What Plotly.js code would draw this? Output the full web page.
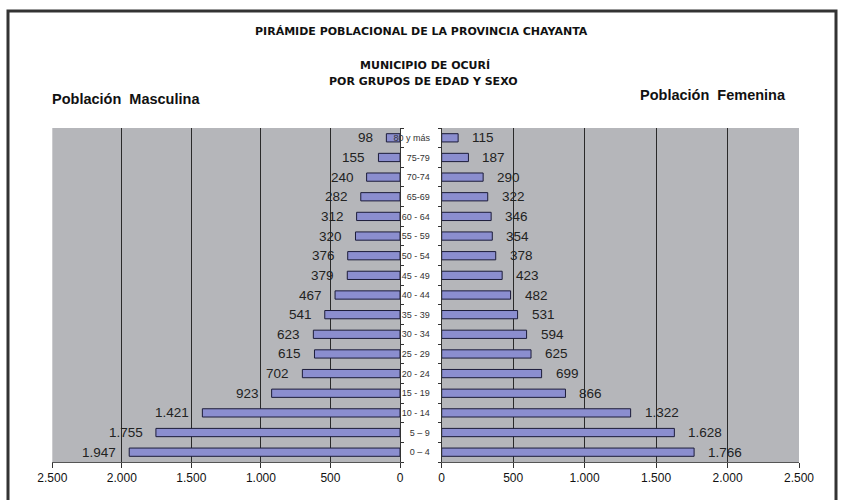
<!DOCTYPE html>
<html>
<head>
<meta charset="utf-8">
<script src="https://cdn.plot.ly/plotly-3.0.1.min.js"></script>
<style>html,body{margin:0;padding:0;background:#fff}#chart{width:841px;height:500px}</style>
</head>
<body>
<div id="chart"></div>
<script>
// Age groups, bottom to top
const categories = ['0 – 4','5 – 9','10 - 14','15 - 19','20 - 24','25 - 29','30 - 34','35 - 39','40 - 44','45 - 49','50 - 54','55 - 59','60 - 64','65-69','70-74','75-79','80 y más'];
const male = [1947,1755,1421,923,702,615,623,541,467,379,376,320,312,282,240,155,98];
const female = [1766,1628,1322,866,699,625,594,531,482,423,378,354,346,322,290,187,115];
const tickValues = [0,500,1000,1500,2000,2500];
const tickLabels = ['0','500','1.000','1.500','2.000','2.500'];

function fmt(v){ return String(v).replace(/\B(?=(\d{3})+(?!\d))/g,'.'); }

const W = 841, H = 500;
const px = x => x / W, py = y => 1 - y / H;

const barColor = '#8b8ecf', barLine = '#1c1c3a';

const traces = [
  {type:'bar', orientation:'h', y: categories, x: male, xaxis:'x', yaxis:'y', width:0.42,
   marker:{color:barColor, line:{color:barLine, width:1}}, hoverinfo:'skip', showlegend:false},
  {type:'bar', orientation:'h', y: categories, x: female, xaxis:'x2', yaxis:'y2', width:0.42,
   marker:{color:barColor, line:{color:barLine, width:1}}, hoverinfo:'skip', showlegend:false}
];

const labelFont = {family:'Liberation Sans, Arial, sans-serif', size:13.5, color:'#222'};
const annotations = [];
categories.forEach((c,i)=>{
  annotations.push({x: male[i], y: c, xref:'x', yref:'y', text: fmt(male[i]), xanchor:'right', xshift:-11, showarrow:false, font:labelFont});
  annotations.push({x: female[i], y: c, xref:'x2', yref:'y2', text: fmt(female[i]), xanchor:'left', xshift:12, showarrow:false, font:labelFont});
});
const titleFont = {family:'DejaVu Sans, sans-serif', size:11, color:'#111', weight:'bold'};
annotations.push({xref:'paper', yref:'paper', x:px(421), y:py(31), text:'PIRÁMIDE POBLACIONAL DE LA PROVINCIA CHAYANTA', showarrow:false, font:titleFont, xanchor:'center', yanchor:'middle'});
annotations.push({xref:'paper', yref:'paper', x:px(425), y:py(65), text:'MUNICIPIO DE OCURÍ', showarrow:false, font:titleFont, xanchor:'center', yanchor:'middle'});
annotations.push({xref:'paper', yref:'paper', x:px(423), y:py(81), text:'POR GRUPOS DE EDAD Y SEXO', showarrow:false, font:titleFont, xanchor:'center', yanchor:'middle'});
const sideFont = {family:'Liberation Sans, Arial, sans-serif', size:14.5, color:'#111', weight:'bold'};
annotations.push({xref:'paper', yref:'paper', x:px(50), y:py(99), text:'Población  Masculina', showarrow:false, font:sideFont, xanchor:'left', yanchor:'middle'});
annotations.push({xref:'paper', yref:'paper', x:px(788), y:py(95), text:'Población  Femenina', showarrow:false, font:sideFont, xanchor:'right', yanchor:'middle'});

const tickFont = {family:'Liberation Sans, Arial, sans-serif', size:12, color:'#111'};
const xCommon = {tickmode:'array', tickvals:tickValues, ticktext:tickLabels, showgrid:true, gridcolor:'#2a2a2a', gridwidth:1,
  zeroline:false, showline:true, linecolor:'#555', linewidth:1, ticks:'outside', ticklen:5, tickcolor:'#333', tickfont:tickFont, fixedrange:true};

const layout = {
  width:W, height:H, margin:{l:0,r:0,t:0,b:0}, paper_bgcolor:'#fff', plot_bgcolor:'#b5b6ba',
  bargap:0.5, showlegend:false,
  xaxis: Object.assign({}, xCommon, {domain:[px(52.3), px(400)], range:[2500,0], anchor:'y'}),
  xaxis2: Object.assign({}, xCommon, {domain:[px(441.7), px(799)], range:[0,2500], anchor:'y2'}),
  yaxis: {domain:[py(462), py(128)], anchor:'x', side:'right', type:'category', categoryarray:categories, categoryorder:'array',
    showticklabels:false, ticks:'outside', ticklen:3, tickson:'boundaries', tickcolor:'#333', showline:true, linecolor:'#333', linewidth:1, showgrid:false, fixedrange:true},
  yaxis2: {domain:[py(462), py(128)], anchor:'x2', side:'left', type:'category', categoryarray:categories, categoryorder:'array',
    showticklabels:true, ticks:'outside', ticklen:3, tickson:'boundaries', tickcolor:'#333', showline:true, linecolor:'#333', linewidth:1, showgrid:false,
    ticklabelstandoff:9,
    tickfont:{family:'Liberation Sans, Arial, sans-serif', size:9, color:'#333'}, fixedrange:true},
  shapes:[
    {type:'rect', xref:'paper', yref:'paper', x0:px(8), x1:px(836), y0:-0.05, y1:py(11), line:{color:'#333', width:3}, fillcolor:'rgba(0,0,0,0)', layer:'above'}
  ],
  annotations: annotations
};

Plotly.newPlot('chart', traces, layout, {staticPlot:true, displayModeBar:false});
</script>
</body>
</html>
